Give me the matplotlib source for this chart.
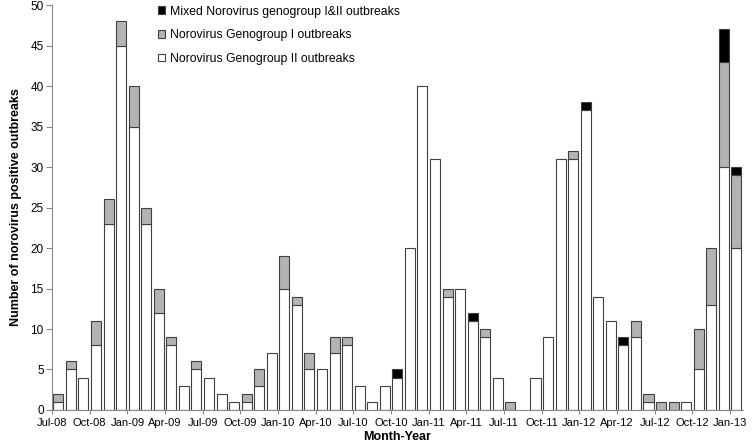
import numpy as np
import matplotlib
matplotlib.use('Agg')
import matplotlib.pyplot as plt
from matplotlib.patches import Patch

plt.rcParams['font.family'] = ['Liberation Sans', 'DejaVu Sans']

# Monthly counts, Jul-08 .. Jan-13 (55 months)
gii = [1, 5, 4, 8, 23, 45, 35, 23, 12, 8, 3, 5, 4, 2, 1, 1, 3, 7, 15, 13,
       5, 5, 7, 8, 3, 1, 3, 4, 20, 40, 31, 14, 15, 11, 9, 4, 0, 0, 4, 9,
       31, 31, 37, 14, 11, 8, 9, 1, 0, 0, 1, 5, 13, 30, 20]
gi = [1, 1, 0, 3, 3, 3, 5, 2, 3, 1, 0, 1, 0, 0, 0, 1, 2, 0, 4, 1,
      2, 0, 2, 1, 0, 0, 0, 0, 0, 0, 0, 1, 0, 0, 1, 0, 1, 0, 0, 0,
      0, 1, 0, 0, 0, 0, 2, 1, 1, 1, 0, 5, 7, 13, 9]
mixed = [0, 0, 0, 0, 0, 0, 0, 0, 0, 0, 0, 0, 0, 0, 0, 0, 0, 0, 0, 0,
         0, 0, 0, 0, 0, 0, 0, 1, 0, 0, 0, 0, 0, 1, 0, 0, 0, 0, 0, 0,
         0, 0, 1, 0, 0, 1, 0, 0, 0, 0, 0, 0, 0, 4, 1]
tick_labels = ['Jul-08', 'Oct-08', 'Jan-09', 'Apr-09', 'Jul-09', 'Oct-09', 'Jan-10',
               'Apr-10', 'Jul-10', 'Oct-10', 'Jan-11', 'Apr-11', 'Jul-11', 'Oct-11',
               'Jan-12', 'Apr-12', 'Jul-12', 'Oct-12', 'Jan-13']

gii = np.array(gii)
gi = np.array(gi)
mixed = np.array(mixed)
x = np.arange(len(gii)) + 0.5

fig = plt.figure(figsize=(7.54, 4.44), dpi=100)
ax = fig.add_axes([0.069, 0.0766, 0.916, 0.912])

edge = '#404040'
w = 0.8


def stack(vals, bottom, color):
    m = vals > 0
    ax.bar(x[m], vals[m], bottom=bottom[m], width=w, color=color,
           edgecolor=edge, linewidth=0.8)


zero = np.zeros_like(gii)
stack(gii, zero, 'white')
stack(gi, gii, '#b3b3b3')
stack(mixed, gii + gi, 'black')

ax.set_xlim(0, len(gii))
ax.set_ylim(0, 50)
ax.set_yticks(range(0, 51, 5))
ax.set_xticks(np.arange(0, len(gii), 3))
ax.set_xticklabels(tick_labels)
ax.tick_params(axis='x', labelsize=8, length=3, color='#888888', pad=3)
ax.tick_params(axis='y', labelsize=8.5, length=4, color='#888888', pad=2)

for s in ['top', 'right']:
    ax.spines[s].set_visible(False)
for s in ['left', 'bottom']:
    ax.spines[s].set_color('#888888')

ax.set_xlabel('Month-Year', fontsize=9, fontweight='bold', labelpad=2)
ax.set_ylabel('Number of norovirus positive outbreaks', fontsize=9,
              fontweight='bold', labelpad=6)

handles = [Patch(facecolor='black', edgecolor=edge, linewidth=0.8),
           Patch(facecolor='#b3b3b3', edgecolor=edge, linewidth=0.8),
           Patch(facecolor='white', edgecolor=edge, linewidth=0.8)]
labels = ['Mixed Norovirus genogroup I&II outbreaks',
          'Norovirus Genogroup I outbreaks',
          'Norovirus Genogroup II outbreaks']
ax.legend(handles, labels, loc='upper left', bbox_to_anchor=(0.195, 1.012),
          bbox_transform=fig.transFigure, frameon=False, fontsize=8.8,
          handlelength=0.6, handleheight=0.6, handletextpad=0.35,
          labelspacing=0.95)

fig.savefig('out.png', dpi=100)
